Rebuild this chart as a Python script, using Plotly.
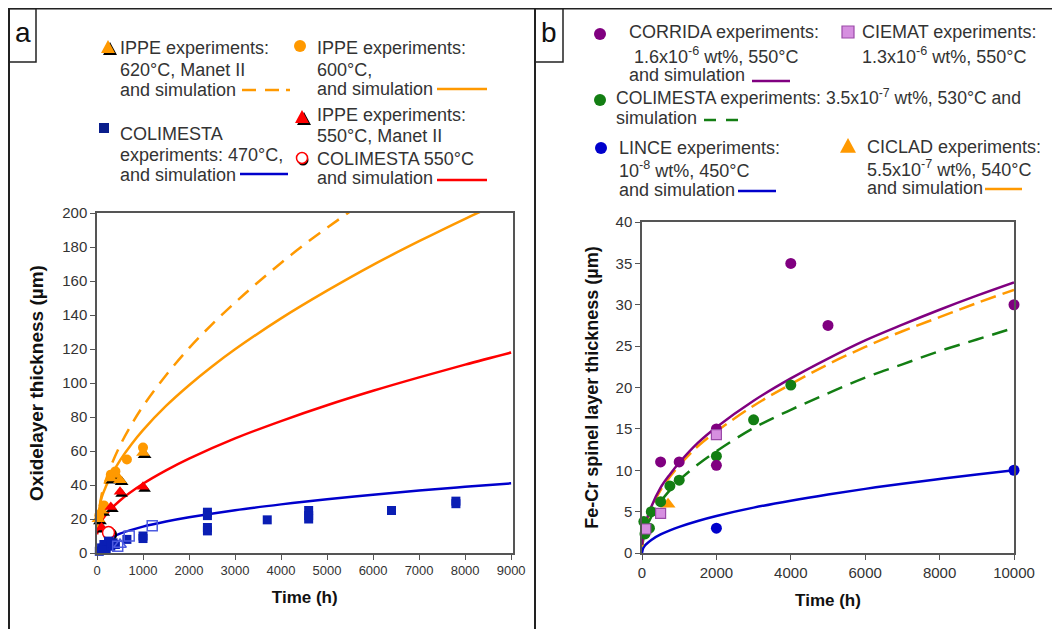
import numpy as np
import plotly.graph_objects as go

# the page shows the figure 8px in from the top-left corner, so the figure is
# sized to the remaining window and every layout position is given in window pixels
W, H = 1060, 629
OX, OY = 8, 8
FW, FH = W - OX, H - OY
FONT = "Liberation Sans, Arial, sans-serif"
TXT = "#333333"

# ---- panel a : oxide layer thickness vs time ----
t_620_sim = [0, 100, 200, 300, 500, 750, 1000, 1500, 2000, 2500, 3000, 3500, 4000, 4500, 5000, 5500, 6000]
y_620_sim = [14, 34.1, 43.5, 51, 63.2, 75.6, 86.4, 104.6, 120.5, 134.5, 147.3, 159.3, 170.6, 181.3, 191.3,
             200.9, 210.3]

t_600_sim = [0, 100, 200, 300, 500, 750, 1000, 1500, 2000, 2500, 3000, 4000, 5000, 6000, 7000, 8000, 9000]
y_600_sim = [18, 32.5, 39.5, 45.2, 54.5, 64, 72.3, 86.5, 98.7, 109.7, 119.8, 138, 154.3, 169.5, 183.4,
             196.6, 209]

t_550_sim = [0, 100, 250, 500, 1000, 1500, 2000, 3000, 4000, 5000, 6000, 7000, 8000, 9000]
y_550_sim = [11, 18.8, 24.3, 30.9, 40.7, 48.6, 55.5, 67.4, 77.6, 86.9, 95.4, 103.3, 110.8, 117.9]

t_470_sim = [0, 25, 50, 100, 250, 500, 1000, 1500, 2000, 3000, 4000, 5000, 6000, 7000, 8000, 9000]
y_470_sim = [0, 3.0, 4.1, 5.6, 8.3, 11.4, 15.5, 18.5, 21.0, 25.2, 28.6, 31.6, 34.2, 36.7, 38.9, 41.0]

t_620_exp = [30, 100, 300, 400, 500, 1000]
y_620_exp = [20, 25, 44, 46, 43, 59]
t_600_exp = [50, 150, 300, 400, 650, 1000]
y_600_exp = [22, 28, 46, 48, 55, 62]
t_550m_exp = [100, 300, 500, 1000]
y_550m_exp = [15, 27, 36, 39]
t_550c_exp = [250]
y_550c_exp = [12]
t_470_exp = [50, 100, 150, 200, 250, 300, 350, 400, 650, 1000, 1000,
             2400, 2400, 2400, 2400, 3700, 4600, 4600, 4600, 6400, 7800, 7800]
y_470_exp = [1, 3, 5, 2, 7, 4, 6, 5, 8, 10, 8.5,
             24, 22, 15, 13, 19.5, 25, 22, 20, 25, 30.5, 29]
t_470_open = [450, 700, 1200]
y_470_open = [4, 10, 16]
t_470_tri = [500]
y_470_tri = [5]

# ---- panel b : Fe-Cr spinel layer thickness vs time ----
t_b_sim = [0, 25, 50, 100, 250, 500, 750, 1000, 1500, 2000, 3000, 4000, 5000, 6000, 7000, 8000, 9000, 10000]
corrida_sim = [1, 1.9, 2.6, 3.65, 5.6, 7.9, 9.5, 10.9, 13.3, 15.2, 18.4, 21.1, 23.5, 25.7, 27.6, 29.4, 31.1, 32.7]
ciclad_sim = [0.8, 1.8, 2.5, 3.5, 5.4, 7.6, 9.2, 10.6, 12.9, 14.7, 17.8, 20.4, 22.8, 24.9, 26.8, 28.5, 30.2, 31.8]
colimesta_sim = [0.8, 1.4, 2.0, 2.8, 4.4, 6.2, 7.6, 8.8, 10.7, 12.3, 15.1, 17.3, 19.3, 21.2, 22.8, 24.4, 25.8, 27.2]
lince_sim = [0, 0.5, 0.71, 1, 1.58, 2.24, 2.74, 3.16, 3.87, 4.47, 5.48, 6.32, 7.07, 7.75, 8.37, 8.94, 9.49, 10]

corrida_t = [500, 1000, 2000, 2000, 4000, 5000, 10000]
corrida_y = [11, 11, 15, 10.6, 35, 27.5, 30]
colimesta_t = [50, 80, 200, 250, 500, 750, 1000, 2000, 3000, 4000]
colimesta_y = [3.8, 2.3, 3, 5, 6.2, 8.1, 8.8, 11.7, 16.1, 20.3]
ciemat_t = [100, 500, 2000]
ciemat_y = [2.9, 4.8, 14.3]
ciclad_t = [700]
ciclad_y = [5.9]
lince_t = [2000, 10000]
lince_y = [3, 10]

ORANGE = "#FF9900"
RED = "#FF0000"
BLUE_A = "#0A1EB4"
BLUE = "#0000CC"
PURPLE = "#800080"
GREEN = "#137E13"
PINK = "#D68FE0"


def fx(x):
    return (x - OX) / FW


def fy(y):
    return 1 - (y - OY) / FH


fig = go.Figure()


def line(t, y, color, ax, dash="solid"):
    fig.add_trace(go.Scatter(x=t, y=y, mode="lines", xaxis=ax[0], yaxis=ax[1],
                             line=dict(color=color, width=2.5, dash=dash, shape="spline"),
                             showlegend=False, hoverinfo="skip"))


def pts(t, y, ax, symbol, size, color, lcolor=None, lw=0):
    fig.add_trace(go.Scatter(x=t, y=y, mode="markers", xaxis=ax[0], yaxis=ax[1], cliponaxis=False,
                             marker=dict(symbol=symbol, size=size, color=color,
                                         line=dict(color=lcolor or color, width=lw)),
                             showlegend=False, hoverinfo="skip"))


A = ("x", "y")
B = ("x2", "y2")

# panel a lines
line(t_620_sim, y_620_sim, ORANGE, A, dash="14px,9px")
line(t_600_sim, y_600_sim, ORANGE, A)
line(t_550_sim, y_550_sim, RED, A)
line(t_470_sim, y_470_sim, BLUE, A)

# panel a markers (black drop shadow under triangles)
pts(np.array(t_620_exp) + 35, np.array(y_620_exp) - 1.3, A, "triangle-up", 12, "black")
pts(t_620_exp, y_620_exp, A, "triangle-up", 12, ORANGE)
pts(t_600_exp, y_600_exp, A, "circle", 10, ORANGE)
pts(np.array(t_550m_exp) + 35, np.array(y_550m_exp) - 1.3, A, "triangle-up", 11, "black")
pts(t_550m_exp, y_550m_exp, A, "triangle-up", 11, RED)
pts(np.array(t_550c_exp) + 35, np.array(y_550c_exp) - 1.3, A, "circle-open", 12, "black", lw=2)
pts(t_550c_exp, y_550c_exp, A, "circle", 12, "white", RED, 1.5)
pts(t_470_exp, y_470_exp, A, "square", 9, BLUE_A)
pts(t_470_open, y_470_open, A, "square-open", 10, "#4D5BE0", lw=1.5)
pts(t_470_tri, y_470_tri, A, "triangle-up-open", 11, "#4D5BE0", lw=1.5)

# panel b lines
line(t_b_sim, lince_sim, BLUE, B)
line(t_b_sim, colimesta_sim, GREEN, B, dash="16px,9px")
line(t_b_sim, ciclad_sim, ORANGE, B, dash="16px,7px")
line(t_b_sim, corrida_sim, PURPLE, B)

# panel b markers
pts(lince_t, lince_y, B, "circle", 11, BLUE)
pts(ciclad_t, ciclad_y, B, "triangle-up", 13, ORANGE)
pts(colimesta_t, colimesta_y, B, "circle", 11, GREEN)
pts(corrida_t, corrida_y, B, "circle", 11, PURPLE)
pts(ciemat_t, ciemat_y, B, "square", 10, PINK, "#9B4AA8", 1.2)

axis_common = dict(showline=True, linecolor="#555555", linewidth=1.5, mirror=True,
                   ticks="outside", ticklen=5, tickcolor="#555555", showgrid=False,
                   zeroline=False, automargin=False, tickformat="d",
                   tickfont=dict(family=FONT, size=15, color=TXT))
title_font = dict(family=FONT, size=17, color="#111111")

fig.update_layout(
    width=FW, height=FH,
    margin=dict(l=0, r=0, t=0, b=0),
    paper_bgcolor="white", plot_bgcolor="white",
    xaxis=dict(axis_common, domain=[fx(97), fx(512.5)], range=[0, 9030], dtick=1000,
               tickfont=dict(family=FONT, size=13, color=TXT),
               title=dict(text="<b>Time (h)</b>", font=title_font, standoff=14), anchor="y"),
    yaxis=dict(axis_common, domain=[fy(553), fy(213)], range=[0, 200], dtick=20,
               title=dict(text="<b>Oxidelayer thickness (µm)</b>",
                          font=dict(title_font, size=19), standoff=14),
               anchor="x"),
    xaxis2=dict(axis_common, domain=[fx(642), fx(1014)], range=[0, 10000], dtick=2000,
                title=dict(text="<b>Time (h)</b>", font=title_font, standoff=14), anchor="y2"),
    yaxis2=dict(axis_common, domain=[fy(553), fy(222)], range=[0, 40], dtick=5,
                title=dict(text="<b>Fe-Cr spinel layer thickness (µm)</b>",
                           font=dict(title_font, size=18), standoff=12),
                anchor="x2"),
)

shapes = []
annotations = []


def txt(x, y, s, size=18):
    annotations.append(dict(x=fx(x), y=fy(y), xref="paper", yref="paper", text=s,
                            showarrow=False, xanchor="left", yanchor="middle",
                            font=dict(family=FONT, size=size, color=TXT)))


def seg(x0, x1, y, color, dash="solid"):
    shapes.append(dict(type="line", xref="paper", yref="paper", x0=fx(x0), x1=fx(x1),
                       y0=fy(y), y1=fy(y), line=dict(color=color, width=2.5, dash=dash)))


def dot(x, y, r, fill, lcolor=None, lw=0):
    shapes.append(dict(type="circle", xref="paper", yref="paper",
                       x0=fx(x - r), x1=fx(x + r), y0=fy(y + r), y1=fy(y - r),
                       fillcolor=fill, line=dict(color=lcolor or fill, width=lw)))


def sq(x, y, r, fill, lcolor=None, lw=0):
    shapes.append(dict(type="rect", xref="paper", yref="paper",
                       x0=fx(x - r), x1=fx(x + r), y0=fy(y + r), y1=fy(y - r),
                       fillcolor=fill, line=dict(color=lcolor or fill, width=lw)))


def tri(x, y, r, fill):
    p = "M {},{} L {},{} L {},{} Z".format(fx(x - r), fy(y + r * 0.85), fx(x + r), fy(y + r * 0.85),
                                           fx(x), fy(y - r))
    shapes.append(dict(type="path", xref="paper", yref="paper", path=p,
                       fillcolor=fill, line=dict(color=fill, width=0)))


# panel frames and letter boxes
shapes.append(dict(type="line", xref="paper", yref="paper", x0=fx(8), x1=fx(1060), y0=fy(8.5), y1=fy(8.5),
                   line=dict(color="#222222", width=2)))
for xv in (9, 535):
    shapes.append(dict(type="line", xref="paper", yref="paper", x0=fx(xv), x1=fx(xv), y0=fy(8), y1=0,
                       line=dict(color="#222222", width=2)))
for x0, x1, lab in ((9, 36, "a"), (535, 563, "b")):
    shapes.append(dict(type="rect", xref="paper", yref="paper", x0=fx(x0), x1=fx(x1),
                       y0=fy(62), y1=fy(8.5), line=dict(color="#222222", width=1.5)))
    annotations.append(dict(x=fx((x0 + x1) / 2), y=fy(33), xref="paper", yref="paper", text=lab,
                            showarrow=False, xanchor="center", yanchor="middle",
                            font=dict(family=FONT, size=28, color="#111111")))

# legend, panel a
tri(110, 49, 7, "black")
tri(108, 47, 7, ORANGE)
txt(118, 48, "IPPE experiments:")
txt(118, 70, "620°C, Manet II")
txt(118, 90, "and simulation")
seg(242, 256, 90, ORANGE)
seg(265, 279, 90, ORANGE)
seg(286, 290, 90, ORANGE)

dot(300, 46, 6, ORANGE)
txt(315, 48, "IPPE experiments:")
txt(315, 70, "600°C,")
txt(315, 89, "and simulation")
seg(437, 487, 89, ORANGE)

sq(104, 128, 5, "#0A1E8C")
txt(118, 134, "COLIMESTA")
txt(118, 155, "experiments: 470°C,")
txt(118, 175, "and simulation")
seg(240, 288, 174, BLUE)

tri(304, 119, 7, "black")
tri(302, 117, 7, RED)
txt(315, 115, "IPPE experiments:")
txt(315, 136, "550°C, Manet II")
dot(303, 160, 5.5, "black")
dot(302, 158, 5.5, "white", RED, 1.5)
txt(315, 159, "COLIMESTA 550°C")
txt(315, 178, "and simulation")
seg(437, 487, 180, RED)

# legend, panel b
dot(600, 34, 6, PURPLE)
txt(627, 32, "CORRIDA experiments:")
txt(632, 55, "1.6x10<sup>-6</sup> wt%, 550°C")
txt(627, 75, "and simulation")
seg(752, 790, 81, PURPLE)

sq(848, 32, 6, PINK, "#9B4AA8", 1.2)
txt(860, 32, "CIEMAT experiments:")
txt(860, 55, "1.3x10<sup>-6</sup> wt%, 550°C")

dot(600, 100, 6, GREEN)
txt(614, 97, "COLIMESTA experiments: 3.5x10<sup>-7</sup> wt%, 530°C and", size=17.6)
txt(614, 118, "simulation")
seg(704, 716, 120, GREEN)
seg(726, 738, 120, GREEN)

dot(601, 148, 6, BLUE)
txt(617, 148, "LINCE experiments:")
txt(617, 169, "10<sup>-8</sup> wt%, 450°C")
txt(617, 190, "and simulation")
seg(738, 776, 191, BLUE)

tri(848, 146, 8, ORANGE)
txt(865, 147, "CICLAD experiments:")
txt(865, 168, "5.5x10<sup>-7</sup> wt%, 540°C")
txt(865, 188, "and simulation")
seg(985, 1022, 189, ORANGE)

fig.update_layout(shapes=shapes, annotations=annotations)

fig.write_html("out.html")
